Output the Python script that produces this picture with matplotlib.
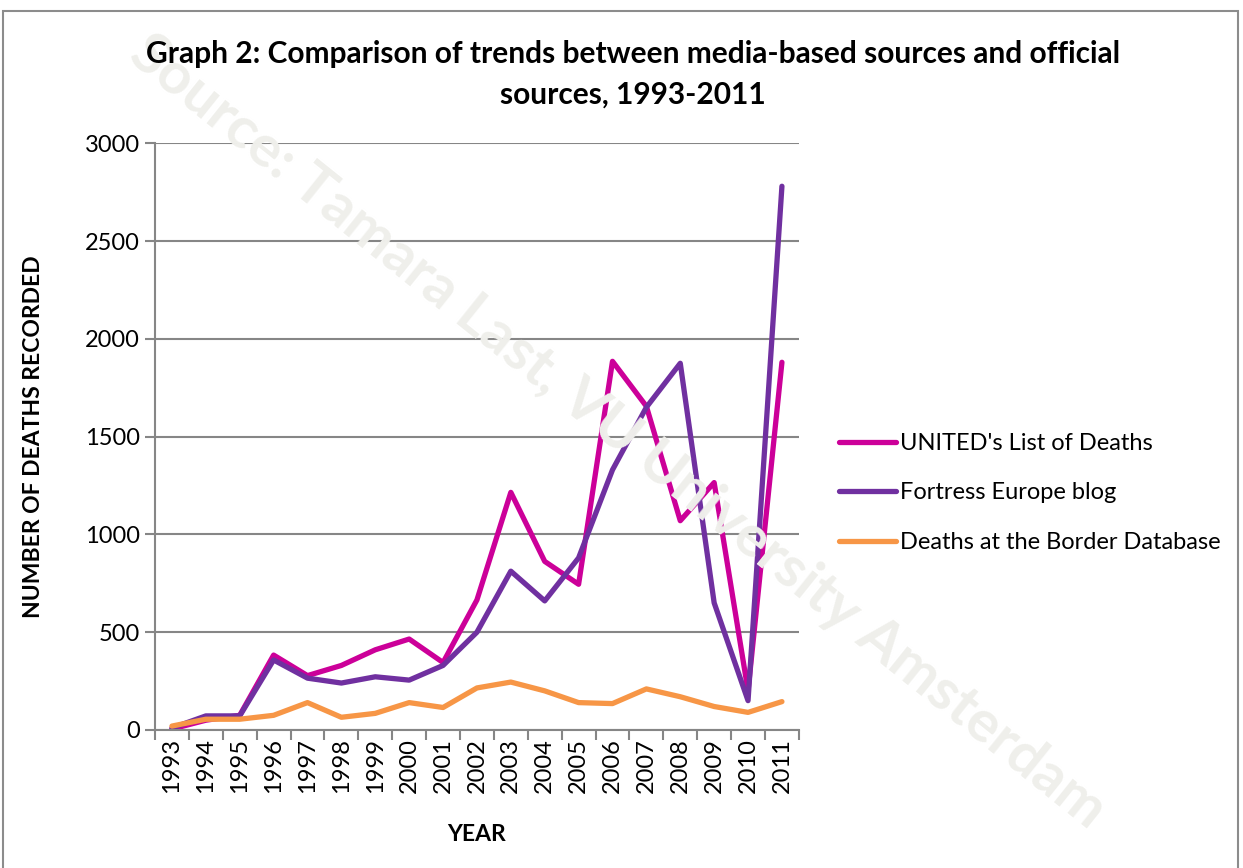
import matplotlib.pyplot as plt
from matplotlib.patches import Rectangle

years = [str(y) for y in range(1993, 2012)]
united = [5, 50, 75, 383, 278, 330, 410, 465, 345, 665, 1215, 862, 745,
          1885, 1655, 1070, 1265, 200, 1880]
fortress = [10, 72, 72, 358, 265, 240, 272, 255, 330, 500, 812, 660, 880,
            1330, 1650, 1875, 650, 150, 2780]
border_db = [20, 55, 55, 75, 140, 65, 85, 140, 115, 215, 245, 200, 140,
             135, 210, 170, 120, 90, 145]

series = [
    ("UNITED's List of Deaths", united, "#CC0099"),
    ("Fortress Europe blog", fortress, "#7030A0"),
    ("Deaths at the Border Database", border_db, "#F79646"),
]

plt.rcParams["font.family"] = ["Lato", "DejaVu Sans"]

fig = plt.figure(figsize=(12.43, 8.68), dpi=100)
ax = fig.add_axes([0.1247, 0.159, 0.518, 0.676])
ax.patch.set_alpha(0)

# outer frame and faint watermark
fig.patches.append(Rectangle((3 / 1243, -0.01), 1235 / 1243, 1.0 - 11 / 868 + 0.01,
                             transform=fig.transFigure, fill=False,
                             edgecolor="#8c8c8c", linewidth=1.5))
fig.text(0.497, 0.503, "Source: Tamara Last, VU University Amsterdam",
         rotation=-38.7, fontsize=42, fontweight="bold", color="#efefeb",
         ha="center", va="center", zorder=0, rotation_mode="anchor")

x = list(range(len(years)))
for label, values, color in series:
    ax.plot(x, values, color=color, linewidth=3.8, label=label,
            solid_capstyle="round", solid_joinstyle="round")

ax.set_xlim(-0.5, len(years) - 0.5)
ax.set_ylim(0, 3000)
ax.set_yticks(range(0, 3001, 500))
ax.set_xticks(x)
ax.set_xticklabels(years, rotation=90, fontsize=17)
ax.set_xticks([i - 0.5 for i in range(len(years) + 1)], minor=True)
ax.tick_params(axis="x", which="major", length=0, pad=6)
ax.tick_params(axis="x", which="minor", length=7, width=1.5, color="#868686")
ax.tick_params(axis="y", length=7, width=1.5, color="#868686", labelsize=17, pad=4)

ax.grid(axis="y", color="#868686", linewidth=1.5)
ax.set_axisbelow(True)
for side in ("top", "right"):
    ax.spines[side].set_visible(False)
for side in ("left", "bottom"):
    ax.spines[side].set_color("#868686")
    ax.spines[side].set_linewidth(1.5)

ax.set_xlabel("YEAR", fontsize=16.5, fontweight="bold", labelpad=22)
ax.set_ylabel("NUMBER OF DEATHS RECORDED", fontsize=16.5, fontweight="bold", labelpad=29)

fig.text(0.509, 0.938, "Graph 2: Comparison of trends between media-based sources and official",
         ha="center", va="center", fontsize=21.5, fontweight="bold")
fig.text(0.509, 0.891, "sources, 1993-2011",
         ha="center", va="center", fontsize=21.5, fontweight="bold")

ax.legend(loc="center left", bbox_to_anchor=(1.03, 0.404), frameon=False,
          fontsize=17, handlelength=2.4, handletextpad=0.15, labelspacing=1.2)

fig.savefig("out.png", dpi=100)
